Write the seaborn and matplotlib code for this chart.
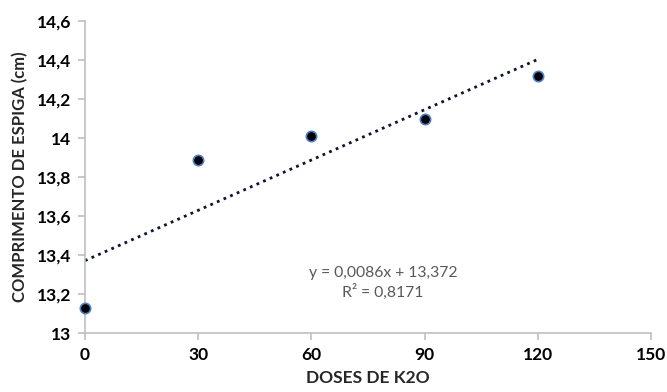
import numpy as np
import pandas as pd
import matplotlib
matplotlib.use("Agg")
import matplotlib.pyplot as plt
import seaborn as sns

# Doses de K2O (kg/ha) e comprimento médio de espiga (cm)
doses = [0, 30, 60, 90, 120]
comprimento = [13.13, 13.89, 14.01, 14.10, 14.32]

# Linha de tendência linear ajustada
slope = 0.0086
intercept = 13.372
r2 = 0.8171

x_ticks = [0, 30, 60, 90, 120, 150]
y_ticks = [13, 13.2, 13.4, 13.6, 13.8, 14, 14.2, 14.4, 14.6]
y_tick_labels = ["13", "13,2", "13,4", "13,6", "13,8", "14", "14,2", "14,4", "14,6"]

sns.set_theme(style="white")
plt.rcParams["font.family"] = ["Lato", "DejaVu Sans"]

fig = plt.figure(figsize=(6.67, 3.92), dpi=100)
ax = fig.add_axes([0.1274, 0.150, 0.8486, 0.796])

df = pd.DataFrame({"dose": doses, "comp": comprimento})
trend = pd.DataFrame({"dose": [doses[0], doses[-1]]})
trend["comp"] = intercept + slope * trend["dose"]

sns.lineplot(data=trend, x="dose", y="comp", ax=ax, color="#0d1433",
             linestyle=(0, (1, 1.6)), linewidth=2.0, zorder=2)
sns.scatterplot(data=df, x="dose", y="comp", ax=ax, color="black",
                edgecolor="#4a7fd4", linewidth=1.2, s=55, zorder=3,
                clip_on=False)

ax.set_xlim(0, 150)
ax.set_ylim(13, 14.6)
ax.set_xticks(x_ticks)
ax.set_xticklabels([str(t) for t in x_ticks], fontweight="bold", fontsize=12.5)
ax.set_yticks(y_ticks)
ax.set_yticklabels(y_tick_labels, fontweight="bold", fontsize=12.5)

for side in ["top", "right"]:
    ax.spines[side].set_visible(False)
for side in ["left", "bottom"]:
    ax.spines[side].set_color("#bfbfbf")
    ax.spines[side].set_linewidth(1.2)

ax.tick_params(axis="both", which="major", direction="out", length=5,
               width=1.2, color="#bfbfbf", labelcolor="black", pad=5,
               left=True, bottom=True)

ax.set_xlabel("DOSES DE K2O", fontweight="bold", fontsize=12.5, labelpad=5)
ax.set_ylabel("COMPRIMENTO DE ESPIGA (cm)", fontweight="bold", fontsize=12,
              labelpad=6)

eq = f"y = {slope:.4f}x + {intercept:.3f}".replace(".", ",")
ax.text(79, 13.308, eq, ha="center", va="center", fontsize=11.3,
        color="#595959")
ax.text(79, 13.21, f"R² = {r2:.4f}".replace(".", ","), ha="center",
        va="center", fontsize=11.3, color="#595959")

fig.savefig("out.png", dpi=100)
